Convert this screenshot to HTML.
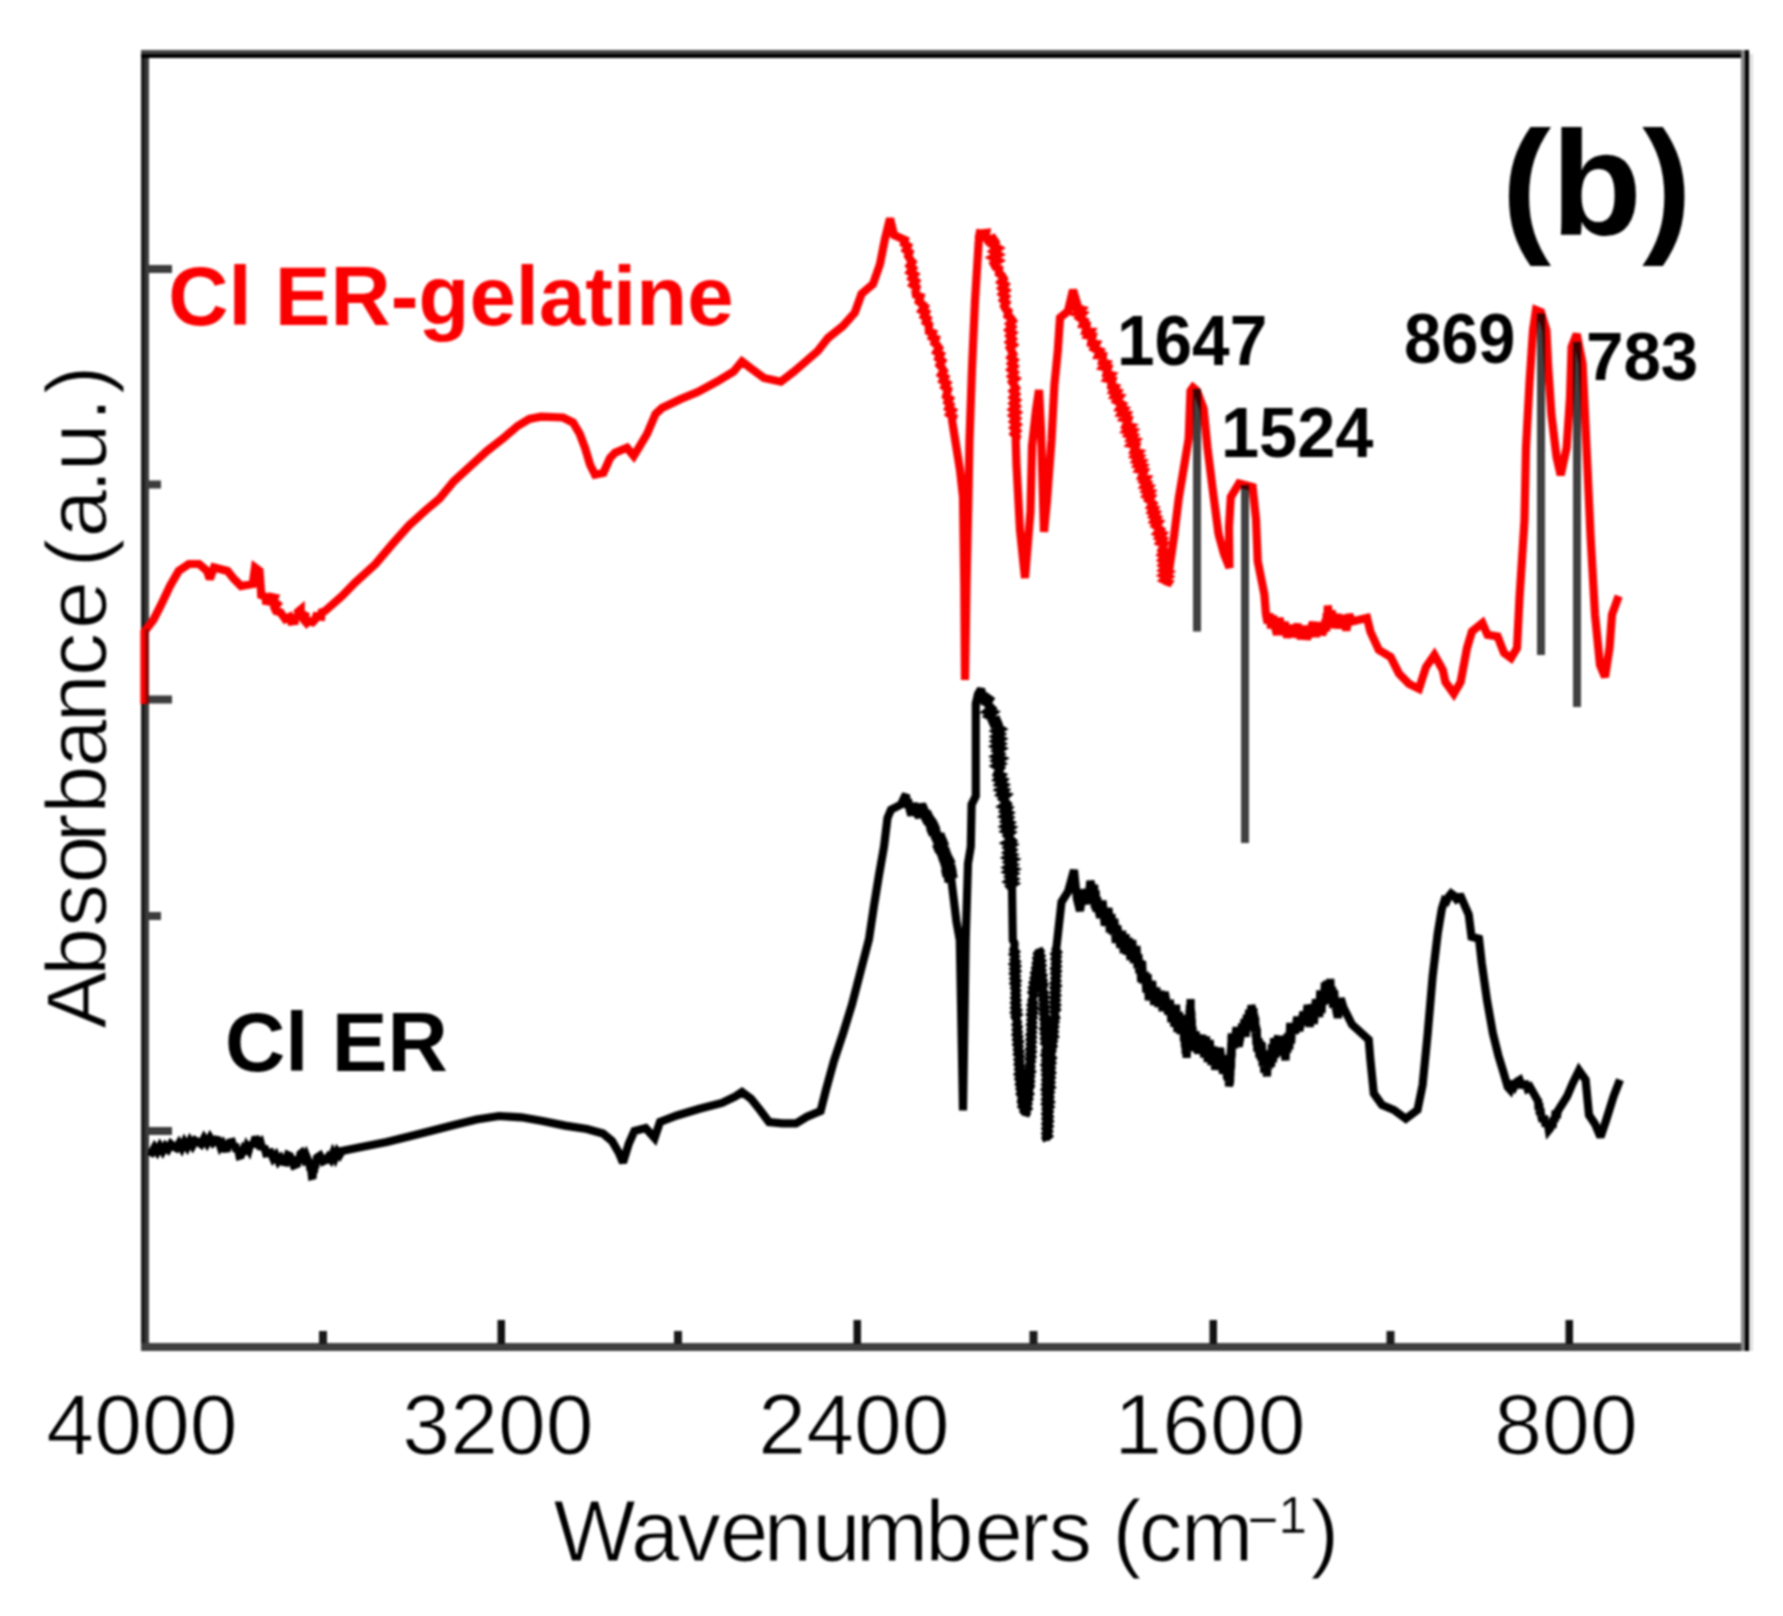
<!DOCTYPE html>
<html lang="en">
<head>
<meta charset="utf-8">
<title>FTIR spectra (b)</title>
<style>
html,body{margin:0;padding:0;background:#fff;}
body{width:1783px;height:1616px;overflow:hidden;font-family:'Liberation Sans', Arial, Helvetica, sans-serif;}
svg{display:block;}
</style>
</head>
<body>
<svg width="1783" height="1616" viewBox="0 0 1783 1616">
<rect width="1783" height="1616" fill="#fff"/>
<defs><filter id="soft" x="0" y="0" width="100%" height="100%" filterUnits="userSpaceOnUse" color-interpolation-filters="sRGB"><feGaussianBlur stdDeviation="0.9"/></filter></defs>
<g filter="url(#soft)">
<rect width="1783" height="1616" fill="#fff"/>
<path d="M149.0 1151.0 L151.7 1152.5 L154.5 1147.6 L157.2 1151.6 L159.9 1146.5 L162.7 1151.0 L165.4 1146.3 L168.1 1149.2 L170.9 1144.2 L173.6 1146.5 L176.3 1148.0 L179.0 1143.5 L181.7 1148.0 L184.4 1142.2 L187.2 1146.8 L189.9 1141.2 L192.6 1145.5 L195.3 1140.6 L198.0 1142.0 L201.0 1144.1 L204.0 1138.4 L207.0 1143.2 L210.0 1137.8 L213.0 1142.6 L216.0 1139.7 L218.2 1140.2 L220.5 1146.9 L222.8 1144.0 L225.0 1148.7 L227.3 1148.5 L229.7 1142.5 L232.0 1142.0 L233.5 1147.1 L235.0 1144.2 L236.5 1151.3 L238.0 1148.1 L239.5 1155.8 L241.0 1155.4 L243.0 1150.5 L244.9 1153.7 L246.9 1146.8 L248.8 1149.8 L250.8 1142.7 L252.8 1146.5 L254.7 1139.9 L256.7 1139.7 L258.6 1143.8 L260.5 1142.2 L262.4 1149.3 L264.2 1146.3 L266.1 1153.3 L268.0 1153.0 L270.6 1152.4 L273.2 1158.3 L275.8 1155.3 L278.4 1161.1 L281.0 1158.1 L283.6 1162.0 L285.7 1162.4 L287.9 1155.1 L290.0 1156.0 L291.8 1160.6 L293.5 1157.1 L295.2 1164.8 L297.0 1164.0 L298.1 1158.3 L299.2 1161.1 L300.4 1153.9 L301.5 1153.0 L303.7 1158.1 L305.8 1154.7 L308.0 1160.0 L308.8 1165.5 L309.6 1162.8 L310.4 1170.4 L311.1 1168.5 L311.9 1175.8 L312.7 1175.6 L313.3 1170.6 L313.9 1172.5 L314.5 1166.2 L315.2 1168.2 L315.8 1159.8 L316.4 1162.0 L317.0 1157.7 L320.0 1155.7 L323.0 1161.4 L326.0 1160.0 L328.3 1156.9 L330.6 1159.5 L332.9 1153.5 L335.1 1157.7 L337.4 1151.9 L339.7 1154.8 L342.0 1151.0 L364.0 1146.5 L386.8 1142.0 L409.0 1136.4 L431.6 1130.8 L454.0 1125.0 L476.5 1119.5 L499.0 1116.0 L521.4 1117.3 L542.4 1121.0 L565.0 1125.6 L587.0 1129.0 L603.0 1133.5 L612.0 1141.0 L618.7 1152.5 L623.0 1162.6 L628.8 1143.6 L634.4 1131.0 L645.6 1128.0 L654.6 1138.0 L660.0 1122.0 L677.0 1115.5 L699.5 1108.8 L722.0 1103.0 L735.4 1096.5 L742.0 1092.0 L751.0 1098.7 L760.0 1110.0 L769.0 1122.0 L782.5 1123.4 L796.0 1123.4 L807.0 1116.7 L820.6 1111.0 L826.0 1089.7 L834.0 1060.6 L843.0 1033.6 L852.0 1004.5 L869.0 939.0 L874.0 905.6 L879.0 875.0 L884.0 846.7 L887.5 818.0 L891.0 809.7 L901.0 804.6 L905.0 796.0 L906.0 794.8 L907.0 807.6 L908.0 799.4 L909.0 807.0 L911.3 815.3 L913.7 803.4 L916.0 812.0 L919.0 817.1 L922.0 804.3 L925.0 811.0 L921.6 815.7 L931.3 813.8 L923.1 821.0 L933.6 818.7 L931.0 823.0 L927.6 827.2 L938.1 825.5 L928.3 832.4 L939.3 830.5 L932.1 836.3 L937.0 837.0 L944.5 836.6 L934.2 843.7 L946.8 841.1 L934.4 849.2 L947.0 846.5 L943.0 851.0 L938.7 855.6 L950.5 854.1 L940.1 861.1 L952.7 859.2 L948.0 864.0 L942.7 867.9 L955.2 868.0 L942.6 873.5 L956.0 873.5 L945.4 878.5 L951.4 880.0 L956.5 922.0 L959.8 940.0 L963.0 1110.5 L965.7 940.0 L968.0 863.5 L970.8 846.7 L971.6 804.6 L975.8 796.0 L975.8 703.6 L978.0 694.0 L981.0 689.0 L983.5 699.0 L986.5 697.0 L989.7 699.3 L986.9 703.5 L989.5 706.0 L991.6 708.1 L987.7 711.2 L992.7 712.9 L989.0 716.0 L992.8 717.9 L991.8 720.5 L993.1 723.4 L997.2 721.0 L998.5 724.0 L997.0 726.5 L1000.7 728.9 L996.3 731.4 L1000.0 733.9 L996.3 736.4 L1000.5 738.8 L996.3 741.3 L1000.3 743.8 L996.2 746.3 L1000.8 748.7 L997.0 751.2 L1000.0 753.7 L996.3 756.2 L1001.1 758.6 L996.8 761.1 L1000.5 763.6 L996.4 766.1 L1000.3 768.5 L998.5 771.0 L997.2 773.9 L1001.3 775.6 L998.3 778.9 L1002.7 780.5 L999.5 783.9 L1003.6 785.6 L1000.0 789.0 L1004.3 790.7 L1001.3 793.9 L1006.2 795.5 L1002.7 798.9 L1005.0 801.0 L1007.0 803.3 L1003.2 806.2 L1007.6 808.2 L1004.6 811.1 L1008.4 813.1 L1004.6 816.1 L1008.6 818.1 L1005.6 821.0 L1009.5 823.0 L1005.6 826.0 L1010.2 827.9 L1006.2 830.9 L1010.5 832.9 L1007.4 835.8 L1009.5 838.0 L1011.8 840.3 L1007.3 842.9 L1011.8 845.1 L1008.3 847.7 L1011.7 850.0 L1008.2 852.6 L1012.0 854.8 L1008.1 857.4 L1013.0 859.6 L1009.0 862.2 L1012.6 864.5 L1008.6 867.1 L1013.2 869.3 L1008.8 871.9 L1013.1 874.1 L1009.8 876.7 L1013.3 879.0 L1009.3 881.6 L1013.5 883.8 L1010.0 886.4 L1012.0 888.7 L1012.8 940.0 L1014.5 943.3 L1014.4 947.0 L1013.5 949.5 L1015.5 951.8 L1013.4 954.3 L1015.5 956.7 L1014.0 959.1 L1016.1 961.5 L1013.7 964.0 L1016.3 966.3 L1014.1 968.8 L1016.4 971.2 L1013.9 973.7 L1016.1 976.1 L1014.2 978.5 L1016.6 980.9 L1014.3 983.4 L1016.5 985.7 L1014.7 988.2 L1016.6 990.6 L1014.9 993.1 L1016.6 995.4 L1014.8 997.9 L1016.8 1000.3 L1014.8 1002.8 L1016.8 1005.1 L1014.9 1007.6 L1017.3 1010.0 L1015.0 1012.5 L1017.6 1014.8 L1015.2 1017.3 L1016.5 1019.7 L1017.7 1022.1 L1016.1 1024.7 L1018.1 1027.0 L1016.3 1029.6 L1018.2 1032.0 L1016.3 1034.6 L1018.6 1036.9 L1016.8 1039.5 L1019.2 1041.8 L1017.0 1044.5 L1019.1 1046.8 L1017.5 1049.4 L1019.7 1051.7 L1017.7 1054.3 L1020.0 1056.7 L1018.1 1059.3 L1020.0 1061.6 L1018.3 1064.2 L1020.7 1066.5 L1018.8 1069.1 L1021.0 1071.5 L1018.7 1074.1 L1021.3 1076.4 L1019.1 1079.0 L1021.1 1081.4 L1019.5 1084.0 L1021.9 1086.3 L1020.1 1088.9 L1021.9 1091.2 L1020.3 1093.8 L1022.4 1096.2 L1021.5 1098.7 L1021.1 1101.3 L1023.6 1103.3 L1022.0 1106.2 L1024.4 1108.2 L1023.6 1110.9 L1025.6 1113.0 L1025.4 1115.6 L1026.6 1113.3 L1025.4 1110.6 L1027.8 1108.4 L1025.7 1105.6 L1028.0 1103.4 L1026.6 1100.7 L1028.9 1098.6 L1027.5 1095.8 L1029.7 1093.6 L1028.0 1090.9 L1029.5 1088.6 L1030.6 1086.2 L1028.8 1083.7 L1030.6 1081.3 L1029.0 1078.8 L1030.7 1076.4 L1029.0 1073.8 L1031.3 1071.5 L1029.3 1068.9 L1031.1 1066.5 L1029.6 1064.0 L1031.4 1061.6 L1029.5 1059.1 L1031.8 1056.7 L1029.8 1054.2 L1032.0 1051.8 L1029.8 1049.3 L1032.0 1046.9 L1030.2 1044.4 L1032.2 1042.0 L1030.2 1039.5 L1032.3 1037.1 L1030.3 1034.6 L1032.5 1032.2 L1030.8 1029.7 L1032.8 1027.3 L1030.7 1024.8 L1032.7 1022.4 L1031.0 1019.9 L1033.0 1017.5 L1030.9 1014.9 L1033.5 1012.6 L1031.4 1010.0 L1033.7 1007.7 L1031.4 1005.1 L1033.5 1002.7 L1031.7 1000.2 L1032.8 997.8 L1033.9 995.5 L1032.2 992.8 L1034.8 990.6 L1032.8 987.9 L1035.5 985.7 L1033.5 983.0 L1036.0 980.9 L1034.2 978.2 L1036.3 975.9 L1034.7 973.3 L1036.8 971.0 L1035.6 968.4 L1037.9 966.2 L1036.3 963.5 L1038.1 961.3 L1036.8 958.7 L1039.1 956.5 L1037.4 953.8 L1039.2 951.5 L1038.8 949.0 L1040.3 951.3 L1038.5 953.9 L1040.8 956.1 L1038.7 958.8 L1041.3 961.0 L1039.1 963.6 L1041.7 965.8 L1039.7 968.5 L1041.9 970.7 L1040.3 973.3 L1042.7 975.5 L1040.8 978.1 L1043.0 980.4 L1041.3 983.0 L1044.0 985.1 L1043.0 987.7 L1042.4 990.2 L1044.2 992.5 L1042.4 995.0 L1044.7 997.3 L1042.8 999.8 L1044.6 1002.1 L1043.1 1004.6 L1045.2 1006.9 L1043.1 1009.5 L1045.3 1011.8 L1043.6 1014.3 L1045.6 1016.6 L1043.8 1019.1 L1045.9 1021.4 L1044.3 1023.9 L1046.2 1026.2 L1044.0 1028.8 L1046.4 1031.1 L1044.4 1033.6 L1046.5 1035.9 L1044.7 1038.4 L1047.1 1040.7 L1045.0 1043.2 L1047.3 1045.5 L1046.4 1048.0 L1045.4 1050.4 L1047.5 1052.9 L1045.2 1055.3 L1047.3 1057.8 L1045.7 1060.2 L1047.6 1062.6 L1045.3 1065.1 L1047.5 1067.5 L1045.6 1070.0 L1047.7 1072.4 L1045.7 1074.9 L1047.5 1077.3 L1045.8 1079.8 L1047.7 1082.2 L1045.7 1084.6 L1047.5 1087.1 L1045.5 1089.5 L1048.0 1091.9 L1045.8 1094.4 L1047.8 1096.8 L1045.8 1099.3 L1048.0 1101.7 L1045.7 1104.2 L1047.7 1106.6 L1046.0 1109.1 L1047.5 1111.5 L1045.8 1113.9 L1047.8 1116.4 L1046.0 1118.8 L1047.8 1121.3 L1046.0 1123.7 L1048.1 1126.1 L1046.1 1128.6 L1048.2 1131.0 L1046.0 1133.5 L1048.0 1135.9 L1046.0 1138.4 L1047.0 1140.8 L1045.9 1138.3 L1048.4 1136.0 L1046.3 1133.4 L1048.5 1131.1 L1046.5 1128.5 L1048.9 1126.2 L1046.9 1123.7 L1049.1 1121.3 L1046.8 1118.8 L1049.2 1116.5 L1047.5 1113.9 L1049.3 1111.6 L1047.5 1109.0 L1049.8 1106.7 L1047.6 1104.2 L1050.2 1101.8 L1048.2 1099.3 L1050.0 1096.9 L1048.5 1094.4 L1050.3 1092.1 L1048.4 1089.5 L1050.9 1087.2 L1048.6 1084.6 L1050.8 1082.3 L1048.8 1079.8 L1051.1 1077.4 L1049.3 1074.9 L1051.6 1072.6 L1049.8 1070.0 L1051.4 1067.7 L1049.6 1065.1 L1051.8 1062.8 L1050.1 1060.3 L1052.2 1057.9 L1050.2 1055.4 L1051.4 1053.0 L1052.3 1050.7 L1050.9 1048.1 L1053.0 1045.9 L1051.3 1043.3 L1053.3 1041.1 L1051.6 1038.5 L1054.2 1036.3 L1052.2 1033.7 L1054.3 1031.5 L1052.7 1028.9 L1054.6 1026.7 L1052.9 1024.1 L1054.9 1021.9 L1053.1 1019.3 L1055.8 1017.1 L1054.8 1014.6 L1054.1 1012.2 L1056.2 1009.8 L1054.0 1007.3 L1056.2 1005.0 L1053.9 1002.5 L1056.1 1000.1 L1054.1 997.7 L1056.4 995.3 L1054.2 992.8 L1056.3 990.5 L1054.3 988.0 L1056.8 985.7 L1054.5 983.2 L1056.7 980.8 L1054.9 978.4 L1056.8 976.0 L1054.9 973.5 L1057.0 971.2 L1054.8 968.7 L1057.1 966.3 L1055.3 963.9 L1057.2 961.5 L1055.1 959.0 L1057.1 956.7 L1055.1 954.2 L1057.5 951.9 L1055.7 949.4 L1056.5 947.0 L1061.5 902.0 L1068.0 891.8 L1074.0 870.0 L1077.0 899.0 L1080.0 910.9 L1083.0 889.7 L1086.0 897.0 L1088.2 903.8 L1090.3 881.0 L1092.5 890.0 L1093.3 903.2 L1094.1 884.7 L1094.9 908.7 L1095.6 890.5 L1096.4 911.8 L1097.2 897.2 L1098.0 908.0 L1100.2 917.6 L1102.5 900.7 L1104.8 925.6 L1107.0 916.0 L1108.5 908.1 L1109.9 932.4 L1111.4 914.1 L1112.8 934.5 L1114.3 918.8 L1115.8 942.9 L1117.2 925.7 L1118.7 935.5 L1120.4 947.6 L1122.1 930.9 L1123.8 953.2 L1125.5 934.4 L1127.2 954.7 L1128.8 938.1 L1130.5 960.0 L1132.2 940.0 L1133.9 962.9 L1135.6 955.7 L1136.5 946.0 L1137.5 968.4 L1138.4 954.3 L1139.3 973.2 L1140.3 960.1 L1141.2 982.0 L1142.1 961.3 L1143.1 983.4 L1144.0 977.6 L1145.2 972.0 L1146.4 992.5 L1147.6 974.1 L1148.8 1000.2 L1150.0 990.9 L1152.1 981.0 L1154.2 1004.8 L1156.3 987.8 L1158.4 1006.9 L1160.5 990.8 L1162.6 1011.0 L1164.7 991.9 L1166.8 1004.0 L1168.3 1014.5 L1169.9 999.7 L1171.4 1022.2 L1172.9 1005.4 L1174.4 1026.7 L1176.0 1004.7 L1177.5 1031.9 L1179.0 1012.0 L1180.5 1033.9 L1182.1 1015.2 L1183.6 1027.9 L1184.0 1041.5 L1184.4 1020.6 L1184.9 1047.4 L1185.3 1030.0 L1185.7 1053.9 L1186.2 1034.5 L1186.6 1057.9 L1187.0 1050.0 L1187.2 1035.9 L1187.5 1051.7 L1187.7 1030.1 L1187.9 1050.1 L1188.1 1026.3 L1188.4 1043.8 L1188.6 1021.0 L1188.8 1036.4 L1189.0 1015.2 L1189.3 1030.0 L1189.5 1009.9 L1189.7 1028.1 L1189.9 1004.7 L1190.2 1022.2 L1190.4 1009.0 L1190.6 999.0 L1190.8 1026.9 L1191.0 1009.4 L1191.2 1031.9 L1191.4 1012.0 L1191.6 1033.1 L1191.8 1019.1 L1192.0 1039.7 L1192.2 1026.3 L1192.4 1047.0 L1192.6 1026.9 L1192.8 1051.3 L1193.0 1045.0 L1195.5 1031.4 L1198.0 1053.5 L1200.5 1041.0 L1202.3 1035.2 L1204.2 1057.3 L1206.0 1036.6 L1207.8 1061.9 L1209.7 1040.1 L1211.5 1065.0 L1213.3 1046.5 L1215.2 1069.6 L1217.0 1059.8 L1220.0 1047.9 L1223.0 1073.5 L1226.0 1062.0 L1226.5 1055.1 L1227.0 1079.2 L1227.5 1060.5 L1228.0 1081.0 L1228.5 1068.7 L1229.0 1086.5 L1229.5 1081.7 L1229.7 1070.8 L1229.8 1084.6 L1230.0 1063.8 L1230.1 1082.5 L1230.3 1058.4 L1230.4 1075.7 L1230.6 1052.5 L1230.8 1069.8 L1230.9 1048.4 L1231.1 1067.2 L1231.2 1043.5 L1231.4 1058.6 L1231.5 1035.4 L1231.7 1056.6 L1231.8 1033.3 L1232.0 1040.0 L1234.2 1048.0 L1236.5 1027.1 L1238.7 1046.6 L1240.9 1034.6 L1242.1 1023.8 L1243.2 1037.0 L1244.4 1019.1 L1245.6 1036.9 L1246.8 1014.8 L1247.9 1030.3 L1249.1 1009.8 L1250.3 1024.1 L1251.4 1005.2 L1252.6 1011.0 L1253.0 1023.2 L1253.4 1008.2 L1253.9 1026.3 L1254.3 1013.9 L1254.7 1032.5 L1255.2 1017.0 L1255.6 1037.2 L1256.0 1025.1 L1256.4 1044.8 L1256.8 1028.1 L1257.3 1051.6 L1257.7 1043.0 L1258.5 1038.1 L1259.4 1057.5 L1260.2 1041.0 L1261.0 1060.3 L1261.8 1042.7 L1262.7 1066.4 L1263.5 1052.8 L1264.3 1072.9 L1265.2 1057.4 L1266.0 1068.0 L1267.0 1076.3 L1268.0 1053.8 L1269.0 1068.4 L1270.0 1050.5 L1271.0 1066.9 L1272.0 1044.2 L1273.0 1062.3 L1274.0 1038.1 L1275.0 1058.1 L1276.0 1043.0 L1278.2 1036.1 L1280.3 1055.6 L1282.4 1040.3 L1284.6 1051.0 L1285.5 1060.3 L1286.5 1035.0 L1287.4 1052.5 L1288.3 1033.0 L1289.3 1049.3 L1290.2 1022.8 L1291.1 1043.6 L1292.1 1023.3 L1293.0 1027.9 L1295.1 1033.5 L1297.2 1016.8 L1299.3 1030.9 L1301.4 1021.0 L1303.5 1012.0 L1305.6 1025.1 L1307.6 1005.0 L1309.7 1026.8 L1311.8 1004.4 L1313.8 1023.9 L1315.9 999.4 L1318.0 1007.7 L1319.2 1017.1 L1320.3 990.3 L1321.5 1013.0 L1322.6 990.6 L1323.8 1004.5 L1324.9 982.4 L1326.1 1003.4 L1327.2 980.6 L1328.4 985.8 L1329.3 997.3 L1330.3 978.9 L1331.2 1001.4 L1332.2 986.8 L1333.1 1007.9 L1334.1 990.3 L1335.0 1004.0 L1337.8 1017.8 L1340.7 998.3 L1343.5 1007.7 L1352.0 1024.5 L1368.7 1039.7 L1370.4 1059.8 L1373.8 1093.5 L1382.0 1105.0 L1394.0 1110.0 L1405.8 1118.7 L1417.5 1110.0 L1422.6 1085.0 L1427.6 1034.6 L1432.7 975.7 L1437.7 933.7 L1441.8 909.0 L1444.5 900.5 L1446.5 901.4 L1448.5 897.0 L1451.2 893.6 L1453.8 895.5 L1456.4 899.0 L1459.0 897.0 L1461.0 896.9 L1463.0 901.6 L1468.7 914.5 L1471.5 936.8 L1479.0 938.7 L1481.7 962.8 L1487.0 1000.0 L1492.8 1033.0 L1498.4 1055.6 L1504.0 1074.0 L1507.7 1087.0 L1510.0 1089.5 L1512.3 1081.4 L1514.7 1085.9 L1517.0 1081.6 L1519.6 1080.1 L1522.2 1087.4 L1524.8 1081.8 L1527.4 1088.6 L1530.0 1087.0 L1537.4 1100.0 L1538.0 1099.1 L1538.6 1109.8 L1539.2 1103.0 L1539.8 1114.8 L1540.4 1108.5 L1541.0 1115.0 L1542.6 1121.4 L1544.1 1115.9 L1545.7 1126.3 L1547.3 1120.6 L1548.8 1130.0 L1550.4 1128.0 L1551.5 1120.7 L1552.5 1127.8 L1553.6 1117.4 L1554.6 1121.9 L1555.7 1110.7 L1556.7 1118.0 L1557.8 1111.0 L1567.0 1096.5 L1572.6 1083.5 L1579.0 1070.5 L1585.6 1079.8 L1589.0 1115.0 L1595.0 1124.0 L1600.5 1137.0 L1606.0 1120.6 L1613.5 1096.5 L1620.0 1079.8" fill="none" stroke="#000" stroke-width="8.2" stroke-linejoin="miter" stroke-miterlimit="2.5" stroke-linecap="butt"/>
<g style="mix-blend-mode:multiply">
<rect x="141" y="50" width="4" height="1301" fill="#1c1c1c"/>
<rect x="145" y="50" width="4" height="1301" fill="#3c3c3c"/>
<rect x="141" y="50" width="1608" height="4" fill="#444"/>
<rect x="141" y="54" width="1608" height="4" fill="#000"/>
<rect x="141" y="1343" width="1608" height="8" fill="#3f3f3f"/>
<rect x="1741" y="50" width="4" height="1301" fill="#848484"/>
<rect x="1745" y="50" width="4" height="1301" fill="#000"/>
<rect x="1749" y="54" width="4" height="1297" fill="#e0e0e0"/>
<rect x="497.5" y="1320" width="7.5" height="24" fill="#111"/>
<rect x="853.5" y="1320" width="7.5" height="24" fill="#111"/>
<rect x="1209.5" y="1320" width="7.5" height="24" fill="#111"/>
<rect x="1565.5" y="1320" width="7.5" height="24" fill="#111"/>
<rect x="319" y="1331" width="8" height="13" fill="#1a1a1a"/>
<rect x="674" y="1331" width="8" height="13" fill="#1a1a1a"/>
<rect x="1029.5" y="1331" width="8" height="13" fill="#1a1a1a"/>
<rect x="1386.5" y="1331" width="8" height="13" fill="#1a1a1a"/>
<rect x="145" y="265" width="27" height="8" fill="#3c3c3c"/>
<rect x="145" y="695.5" width="27" height="8" fill="#3c3c3c"/>
<rect x="145" y="1127" width="27" height="8" fill="#3c3c3c"/>
<rect x="145" y="480.5" width="16" height="8" fill="#3c3c3c"/>
<rect x="145" y="912" width="16" height="8" fill="#3c3c3c"/>
</g>
<path d="M144.5 704.0 L144.5 631.4 L153.5 619.7 L162.0 602.8 L170.0 586.0 L178.7 570.9 L188.8 564.0 L199.0 564.0 L207.0 570.9 L209.8 579.0 L214.0 567.5 L227.5 571.0 L234.0 579.0 L241.0 586.0 L252.7 584.0 L255.0 567.5 L259.5 570.9 L261.0 591.0 L261.2 595.1 L265.9 596.9 L266.0 601.0 L269.5 601.6 L271.1 597.0 L274.6 597.8 L273.2 601.3 L277.2 604.2 L274.5 607.8 L276.0 611.0 L280.4 612.3 L283.0 616.0 L285.2 619.0 L289.6 616.9 L291.1 621.5 L294.8 621.0 L295.2 617.6 L299.1 616.0 L298.1 611.8 L300.7 609.6 L300.7 613.6 L305.1 615.6 L304.1 620.1 L306.6 623.0 L308.9 620.7 L312.7 622.1 L315.0 619.7 L316.2 616.1 L321.2 616.7 L321.7 612.2 L325.0 611.0 L342.0 596.0 L355.0 582.6 L375.6 564.0 L392.4 544.0 L409.0 525.4 L426.0 510.0 L439.5 498.5 L453.7 481.4 L470.5 466.0 L487.0 451.0 L504.0 437.7 L517.6 426.0 L529.4 419.0 L541.0 416.7 L563.0 417.5 L573.0 422.5 L579.8 434.0 L585.0 447.8 L590.0 464.6 L595.0 474.7 L603.4 473.0 L610.0 458.0 L615.0 452.8 L627.0 447.8 L633.7 456.0 L638.7 447.8 L647.0 434.0 L655.6 414.0 L662.0 408.0 L680.8 399.0 L697.6 392.0 L716.8 381.7 L733.6 371.6 L742.0 361.5 L750.5 368.0 L764.0 378.0 L780.8 381.7 L794.0 371.6 L804.0 363.0 L817.8 351.0 L828.0 338.0 L843.0 326.0 L854.8 312.7 L861.5 294.0 L873.0 284.0 L880.0 264.0 L885.0 238.7 L890.0 218.5 L894.0 235.0 L905.0 240.0 L904.1 243.6 L907.9 246.0 L905.9 249.9 L909.5 252.4 L908.1 256.1 L910.0 259.0 L912.4 261.9 L909.8 265.6 L912.9 268.4 L910.2 272.1 L914.6 274.7 L911.9 278.4 L915.7 281.1 L912.8 284.9 L916.5 287.5 L915.4 291.0 L915.9 294.8 L920.4 296.6 L918.8 301.5 L922.0 304.0 L924.7 306.5 L921.9 310.5 L925.9 312.6 L924.0 316.4 L927.5 318.7 L925.9 322.3 L929.1 324.7 L928.8 328.0 L928.9 331.4 L933.0 333.0 L931.9 337.0 L935.8 338.6 L934.4 342.8 L937.0 345.0 L939.1 348.0 L936.6 352.0 L940.6 354.5 L938.5 358.4 L942.1 361.1 L939.6 365.1 L942.0 368.0 L943.8 370.9 L941.3 374.6 L945.0 377.2 L942.8 380.8 L946.9 383.3 L944.7 387.0 L948.1 389.5 L947.0 393.0 L946.1 396.3 L949.7 398.7 L947.6 402.2 L950.3 404.8 L948.5 408.2 L952.3 410.6 L949.6 414.2 L953.2 416.7 L952.0 420.0 L956.0 445.0 L960.0 470.0 L963.0 497.0 L964.3 585.6 L965.0 680.0 L966.5 585.6 L968.5 493.0 L969.5 440.0 L972.0 368.0 L975.0 301.0 L978.7 242.0 L980.4 229.5 L979.6 233.6 L986.2 232.9 L985.4 237.0 L987.8 240.6 L993.1 238.4 L995.5 242.0 L993.1 245.1 L998.2 248.2 L993.7 251.4 L998.2 254.5 L992.8 257.6 L998.3 260.8 L993.8 263.9 L995.5 267.0 L999.2 268.7 L998.9 273.5 L1002.0 275.7 L1003.7 278.6 L1001.0 281.9 L1004.9 284.6 L1001.9 288.0 L1005.6 290.6 L1002.4 294.0 L1005.7 296.7 L1003.2 300.1 L1006.2 302.8 L1004.1 306.1 L1005.6 309.0 L1008.4 311.3 L1007.5 315.7 L1010.7 317.8 L1012.8 320.8 L1009.6 323.9 L1012.1 326.8 L1009.0 329.9 L1012.6 332.9 L1009.7 335.9 L1012.5 338.9 L1009.6 342.0 L1013.2 344.9 L1009.9 348.0 L1011.5 351.0 L1013.2 354.0 L1010.8 357.3 L1014.1 360.1 L1011.3 363.4 L1014.2 366.3 L1011.0 369.7 L1014.3 372.5 L1011.6 375.9 L1015.5 378.7 L1012.1 382.0 L1014.0 385.0 L1015.9 388.0 L1013.0 391.1 L1015.8 394.1 L1013.1 397.3 L1016.3 400.2 L1013.2 403.4 L1016.2 406.3 L1012.8 409.5 L1016.7 412.4 L1013.0 415.6 L1016.5 418.6 L1013.6 421.7 L1017.0 424.7 L1013.8 427.8 L1016.8 430.8 L1014.0 433.9 L1016.8 436.9 L1015.7 440.0 L1016.5 465.0 L1020.0 530.0 L1025.0 578.0 L1030.5 511.0 L1032.0 446.0 L1036.0 410.0 L1039.0 390.0 L1041.0 430.0 L1044.0 531.8 L1047.0 500.0 L1051.5 440.0 L1054.4 385.0 L1057.8 351.0 L1060.0 317.8 L1068.0 311.0 L1073.0 290.0 L1077.5 305.0 L1076.6 307.9 L1081.2 309.2 L1077.4 313.0 L1082.3 314.2 L1079.3 317.7 L1081.8 319.6 L1084.4 320.9 L1082.9 324.5 L1086.7 325.1 L1086.5 328.0 L1085.6 331.2 L1090.6 331.6 L1088.1 335.5 L1092.6 336.2 L1091.7 339.4 L1091.1 343.0 L1096.2 343.8 L1093.9 348.3 L1097.0 350.0 L1100.2 351.1 L1098.3 355.4 L1103.0 355.7 L1102.6 359.0 L1102.0 362.0 L1106.1 363.2 L1103.2 366.9 L1108.1 367.9 L1107.0 371.0 L1106.4 374.0 L1111.0 375.0 L1107.8 378.9 L1112.4 379.9 L1111.5 383.0 L1111.2 386.0 L1115.2 387.2 L1113.0 391.0 L1117.3 392.1 L1114.7 396.0 L1119.5 397.0 L1116.5 401.1 L1119.4 402.8 L1122.4 404.5 L1119.8 408.4 L1124.2 409.5 L1121.4 413.5 L1126.4 414.4 L1123.7 418.3 L1128.4 419.3 L1127.3 422.6 L1125.9 425.6 L1130.7 426.7 L1127.2 430.3 L1132.4 431.3 L1129.1 434.8 L1133.4 436.1 L1130.9 439.4 L1135.2 440.6 L1131.5 444.3 L1136.2 445.4 L1135.2 448.3 L1133.9 451.2 L1138.6 452.4 L1135.3 455.9 L1139.5 457.2 L1136.7 460.6 L1141.3 461.8 L1138.2 465.2 L1142.6 466.5 L1139.7 469.9 L1144.4 471.0 L1143.0 474.0 L1141.7 476.9 L1146.3 478.1 L1143.7 481.3 L1147.1 482.9 L1144.6 486.1 L1148.9 487.3 L1146.2 490.6 L1150.3 492.0 L1147.1 495.4 L1151.0 496.8 L1148.6 500.0 L1151.0 501.8 L1153.1 503.7 L1150.9 506.8 L1154.3 508.4 L1151.9 511.6 L1155.6 513.1 L1153.3 516.2 L1156.8 517.8 L1154.3 521.0 L1158.4 522.4 L1155.5 525.7 L1158.0 527.5 L1160.5 529.5 L1157.7 532.8 L1162.1 534.2 L1159.2 537.6 L1162.8 539.3 L1160.2 542.5 L1164.1 544.1 L1163.0 547.0 L1161.8 549.7 L1165.7 551.8 L1162.1 554.8 L1165.4 557.0 L1162.4 559.9 L1166.0 562.1 L1163.0 564.9 L1166.8 567.1 L1163.5 570.0 L1168.0 572.1 L1163.7 575.1 L1168.0 577.2 L1164.3 580.2 L1168.7 582.3 L1167.0 585.0 L1173.9 537.4 L1178.8 497.8 L1183.8 468.0 L1188.7 438.4 L1190.5 391.0 L1193.0 387.5 L1197.0 391.0 L1203.6 408.7 L1207.5 448.0 L1212.5 488.0 L1218.4 533.0 L1219.0 535.7 L1224.0 554.0 L1229.5 567.7 L1229.0 527.0 L1230.8 497.0 L1239.0 483.5 L1252.6 487.0 L1256.0 519.0 L1257.7 561.0 L1264.4 594.6 L1266.0 614.8 L1267.7 623.3 L1269.4 613.4 L1271.1 628.3 L1272.8 615.7 L1274.5 625.0 L1277.0 634.7 L1279.5 617.8 L1282.1 634.9 L1284.6 621.9 L1287.1 637.7 L1289.7 625.0 L1292.2 636.2 L1294.7 631.6 L1297.7 624.4 L1300.8 639.0 L1303.8 626.1 L1306.9 639.1 L1309.9 631.6 L1312.9 622.3 L1315.9 636.6 L1319.0 622.7 L1322.0 634.6 L1325.0 628.0 L1325.6 619.1 L1326.1 631.4 L1326.7 613.2 L1327.3 625.8 L1327.8 605.5 L1328.4 611.4 L1330.1 621.3 L1331.7 610.4 L1333.3 627.9 L1335.0 621.5 L1337.8 614.5 L1340.7 628.1 L1343.5 615.3 L1346.3 630.4 L1349.2 614.6 L1352.0 621.5 L1367.0 618.0 L1370.4 631.6 L1378.8 650.0 L1390.6 657.0 L1399.0 673.7 L1409.0 683.8 L1419.0 688.8 L1426.0 667.0 L1434.4 655.0 L1442.8 670.0 L1445.4 682.0 L1453.8 693.7 L1460.6 682.0 L1467.0 648.0 L1472.0 631.4 L1482.4 623.0 L1487.5 634.8 L1497.6 636.5 L1504.0 653.0 L1511.0 658.0 L1517.0 648.0 L1519.5 597.8 L1522.8 547.0 L1524.5 520.0 L1526.0 448.0 L1529.6 381.0 L1533.0 330.5 L1536.0 310.0 L1541.0 312.0 L1546.4 330.5 L1548.0 364.0 L1551.4 414.6 L1556.5 456.7 L1560.7 475.0 L1566.6 448.0 L1570.0 397.8 L1571.6 347.0 L1576.7 334.0 L1582.6 364.0 L1585.0 414.6 L1588.0 480.0 L1590.5 535.0 L1595.0 614.6 L1600.0 665.0 L1605.0 677.0 L1609.5 648.0 L1612.0 614.6 L1618.7 596.0" fill="none" stroke="#fb0000" stroke-width="8.2" stroke-linejoin="miter" stroke-miterlimit="2.5" stroke-linecap="butt"/>
<rect x="145" y="629" width="4" height="75" fill="#000" fill-opacity="0.38"/>
<g style="mix-blend-mode:multiply" fill="#404040">
<rect x="1193" y="389" width="8" height="242.5"/>
<rect x="1241" y="485" width="8" height="358"/>
<rect x="1537" y="313.5" width="8" height="341.5"/>
<rect x="1573" y="342" width="8" height="365"/>
</g>
<g font-family="'Liberation Sans', Arial, Helvetica, sans-serif" fill="#000">
<text x="142" y="1454" font-size="86" text-anchor="middle" stroke="#fff" stroke-width="1.1">4000</text>
<text x="498" y="1454" font-size="86" text-anchor="middle" stroke="#fff" stroke-width="1.1">3200</text>
<text x="854" y="1454" font-size="86" text-anchor="middle" stroke="#fff" stroke-width="1.1">2400</text>
<text x="1210" y="1454" font-size="86" text-anchor="middle" stroke="#fff" stroke-width="1.1">1600</text>
<text x="1566" y="1454" font-size="86" text-anchor="middle" stroke="#fff" stroke-width="1.1">800</text>
<text y="1560.5" font-size="87" stroke="#fff" stroke-width="1.1"><tspan x="553.4 631.1 677.3 719.9 763.8 812.2 855.8 925.2 974.4 1020.0 1048.4 1088.4 1112.4 1138.7 1181.0">Wavenumbers (cm</tspan><tspan font-size="53" stroke-width="0.3" y="1537.6" x="1247.7">−</tspan><tspan font-size="51" stroke-width="0.5" y="1533.4" x="1278.4">1</tspan><tspan y="1560.5" x="1310.3">)</tspan></text>
<text transform="translate(105.6,1030) rotate(-90)" font-size="86" stroke="#fff" stroke-width="1.1" x="1.3 54.2 103.1 146.4 187.7 216.5 262.7 307.7 354.1 401.0 441.0 462.7 492.6 536.7 558.8 608.5 635.7">Absorbance (a.u.)</text>
<g font-weight="bold">
<text transform="translate(168.3,324.5) scale(0.993,1)" font-size="84" fill="#fb0000">Cl ER-gelatine</text>
<text x="225" y="1071" font-size="83.5">Cl ER</text>
<text transform="translate(1117,364.7) scale(0.965,1)" font-size="70" >1647</text>
<text transform="translate(1221,456.5) scale(0.965,1)" font-size="71" >1524</text>
<text transform="translate(1404,363) scale(0.955,1)" font-size="70" >869</text>
<text transform="translate(1586,380) scale(0.975,1)" font-size="69" >783</text>
<text x="1501.5" y="234.5" font-size="149">(b)</text>
</g></g>
</g>
</svg>
</body>
</html>
